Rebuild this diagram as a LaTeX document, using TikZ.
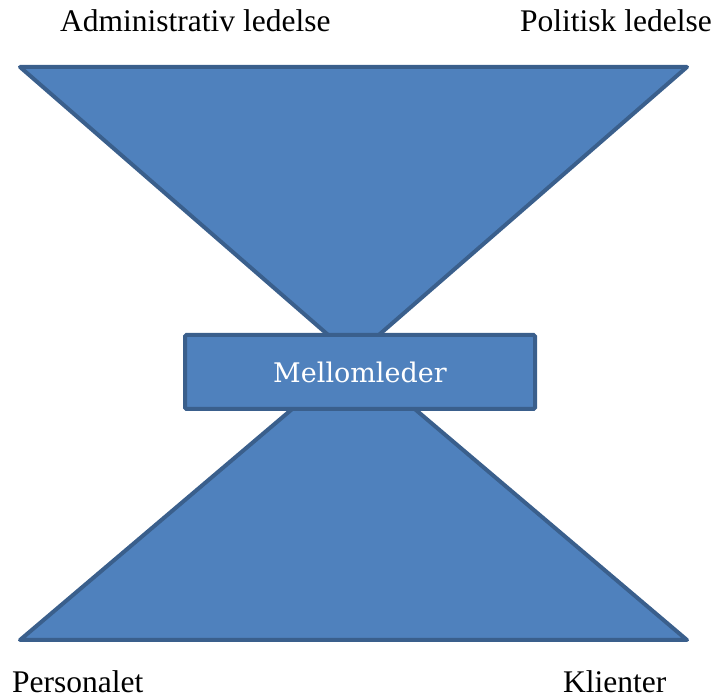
\documentclass[tikz,border=0pt]{standalone}
\usepackage{fontspec}
\setmainfont{Liberation Serif}
\newfontfamily\boxfont{DejaVu Serif}
\definecolor{shapefill}{HTML}{4F81BD}
\definecolor{shapeline}{HTML}{3A5F8C}
\begin{document}
\begin{tikzpicture}[x=1pt,y=-1pt,
  wedge/.style={fill=shapefill,draw=shapeline,line width=4pt,line join=round},
  label/.style={inner sep=0pt,font=\fontsize{31.5}{36}\selectfont},
  midbox/.style={fill=shapefill,draw=shapeline,line width=4pt,rounded corners=1.5pt,
    minimum width=350pt,minimum height=74pt,inner sep=0pt,text=white,
    font=\boxfont\fontsize{27}{32}\selectfont}]
\useasboundingbox (0,0) rectangle (716,700);
% corner points of the two triangles and their shared tip
\coordinate (tl) at (20,67);
\coordinate (tr) at (687,67);
\coordinate (bl) at (20,640);
\coordinate (br) at (687,640);
\coordinate (tip) at (353.5,357);
% upper and lower triangles
\filldraw[wedge] (tl) -- (tr) -- (tip) -- cycle;
\filldraw[wedge] (bl) -- (br) -- (tip) -- cycle;
% middle manager box
\node[midbox] (mid) at (360,372) {Mellomleder};
% corner labels
\node[label,anchor=base west] (adm) at (60,32) {Administrativ ledelse};
\node[label,anchor=base east] (pol) at (712,32) {Politisk ledelse};
\node[label,anchor=base west] (pers) at (12,693) {Personalet};
\node[label,anchor=base west] (kli) at (563,693) {Klienter};
\end{tikzpicture}
\end{document}
